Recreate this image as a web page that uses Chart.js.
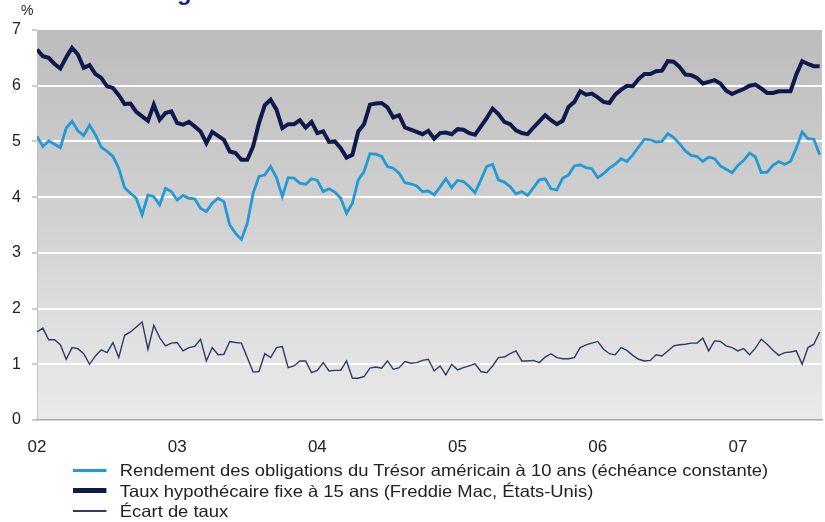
<!DOCTYPE html>
<html>
    <head>
        <script src="https://cdn.jsdelivr.net/npm/chart.js@4.4.1/dist/chart.umd.min.js"></script>
        <meta charset="utf-8">
        <title>Taux hypothécaires et rendement du Trésor</title>
        <style>
            body {
                margin: 0;
                background: #fff;
                font-family: "Liberation Sans", Arial, sans-serif;
            }

            #wrap {
                position: relative;
                width: 825px;
                height: 522px;
            }

            #unit {
                position: absolute;
                left: 21px;
                top: 2px;
                font-size: 14px;
                color: #222;
            }

            #legend {
                position: absolute;
                left: 73px;
                top: 460px;
                font-size: 16.5px;
                color: #222;
                line-height: 20.5px;
                transform: scaleX(1.115);
                transform-origin: left top;
            }

            .item {
                display: flex;
                align-items: center;
                white-space: nowrap;
            }

            .swatch {
                display: inline-block;
                width: 30px;
                margin-right: 12px;
            }
        </style>
    </head>

    <body>
        <div id="wrap">
            <canvas id="chart" width="825" height="522"></canvas>
            <div id="unit">%</div>
            <div id="legend"></div>
        </div>
        <script>
            // semi-monthly readings, starting January 2002
            const startYear = 2002;
            const perYear = 24;
            const yearTicks = [2002, 2003, 2004, 2005, 2006, 2007];
            const yearLabels = ["02", "03", "04", "05", "06", "07"];

            const seriesNames = [
                "Rendement des obligations du Trésor américain à 10 ans (échéance constante)",
                "Taux hypothécaire fixe à 15 ans (Freddie Mac, États-Unis)",
                "Écart de taux"
            ];

            const treasury10y = [
                5.09, 4.91, 5.01, 4.95, 4.89, 5.24, 5.36, 5.19, 5.11, 5.29, 5.12, 4.90,
                4.82, 4.73, 4.52, 4.17, 4.07, 3.98, 3.68, 4.04, 4.01, 3.86, 4.16, 4.10,
                3.95, 4.03, 3.98, 3.97, 3.80, 3.74, 3.89, 3.98, 3.92, 3.50, 3.35, 3.24,
                3.53, 4.07, 4.37, 4.40, 4.55, 4.35, 4.01, 4.35, 4.34, 4.25, 4.23, 4.33,
                4.30, 4.10, 4.15, 4.09, 3.98, 3.71, 3.89, 4.31, 4.46, 4.78, 4.77, 4.73,
                4.55, 4.52, 4.43, 4.26, 4.24, 4.20, 4.10, 4.11, 4.04, 4.18, 4.33, 4.17,
                4.30, 4.28, 4.19, 4.08, 4.31, 4.55, 4.59, 4.31, 4.27, 4.19, 4.06, 4.10,
                4.03, 4.17, 4.31, 4.33, 4.15, 4.13, 4.34, 4.40, 4.56, 4.58, 4.53, 4.51,
                4.35, 4.42, 4.52, 4.59, 4.69, 4.64, 4.76, 4.90, 5.04, 5.03, 4.99, 5.00,
                5.14, 5.07, 4.96, 4.83, 4.75, 4.73, 4.64, 4.72, 4.69, 4.56, 4.50, 4.44,
                4.57, 4.66, 4.79, 4.72, 4.44, 4.45, 4.57, 4.64, 4.59, 4.64, 4.88, 5.17,
                5.05, 5.04, 4.76
            ];

            const mortgage15y = [
                6.65, 6.53, 6.50, 6.39, 6.31, 6.51, 6.68, 6.56, 6.32, 6.37, 6.21, 6.14,
                5.99, 5.96, 5.83, 5.67, 5.68, 5.53, 5.45, 5.37, 5.66, 5.39, 5.51, 5.54,
                5.33, 5.30, 5.35, 5.27, 5.18, 4.97, 5.17, 5.10, 5.03, 4.82, 4.79, 4.67,
                4.67, 4.91, 5.33, 5.65, 5.75, 5.57, 5.24, 5.31, 5.31, 5.38, 5.25, 5.35,
                5.15, 5.18, 4.99, 5.00, 4.88, 4.71, 4.76, 5.18, 5.31, 5.66, 5.68, 5.69,
                5.61, 5.43, 5.47, 5.25, 5.21, 5.17, 5.13, 5.19, 5.05, 5.15, 5.16, 5.13,
                5.22, 5.21, 5.15, 5.12, 5.27, 5.42, 5.59, 5.49, 5.35, 5.31, 5.20, 5.15,
                5.13, 5.25, 5.36, 5.47, 5.38, 5.31, 5.37, 5.62, 5.71, 5.90, 5.84, 5.86,
                5.79, 5.71, 5.69, 5.84, 5.93, 6.00, 5.99, 6.12, 6.21, 6.21, 6.26, 6.27,
                6.44, 6.43, 6.34, 6.20, 6.19, 6.14, 6.04, 6.07, 6.10, 6.04, 5.91, 5.85,
                5.90, 5.94, 6.00, 6.02, 5.95, 5.87, 5.87, 5.90, 5.90, 5.90, 6.20, 6.44,
                6.39, 6.35, 6.35
            ];

            const rateSpread = [
                1.58, 1.65, 1.44, 1.44, 1.35, 1.09, 1.30, 1.28, 1.19, 1.00, 1.15, 1.26,
                1.21, 1.39, 1.12, 1.52, 1.58, 1.67, 1.76, 1.27, 1.70, 1.48, 1.33, 1.38,
                1.39, 1.24, 1.30, 1.32, 1.45, 1.06, 1.30, 1.17, 1.18, 1.41, 1.39, 1.38,
                1.12, 0.86, 0.87, 1.19, 1.12, 1.30, 1.32, 0.94, 0.97, 1.06, 1.06, 0.85,
                0.89, 1.03, 0.88, 0.89, 0.89, 1.06, 0.75, 0.75, 0.78, 0.93, 0.95, 0.93,
                1.06, 0.91, 0.94, 1.05, 1.02, 1.03, 1.07, 1.09, 0.88, 0.97, 0.81, 1.00,
                0.90, 0.94, 0.97, 1.01, 0.87, 0.85, 0.97, 1.12, 1.13, 1.19, 1.24, 1.06,
                1.06, 1.07, 1.03, 1.13, 1.19, 1.12, 1.10, 1.10, 1.12, 1.30, 1.35, 1.38,
                1.41, 1.27, 1.19, 1.17, 1.30, 1.25, 1.16, 1.09, 1.06, 1.07, 1.17, 1.15,
                1.24, 1.33, 1.35, 1.36, 1.38, 1.38, 1.47, 1.24, 1.42, 1.41, 1.33, 1.30,
                1.24, 1.28, 1.17, 1.29, 1.45, 1.36, 1.25, 1.16, 1.21, 1.22, 1.24, 1.00,
                1.30, 1.36, 1.58
            ];

            const lineColors = ["#229ad6", "#0e1a4e", "#2e3a6c"];
            const lineWidths = [2.8, 4, 1.4];

            function toPoints(values) {
                return values.map(function(v, i) {
                    return {x: startYear + i / perYear, y: v};
                });
            }

            // grey gradient behind the plot area
            const plotBackground = {
                id: "plotBackground",
                beforeDraw: function(chart) {
                    const a = chart.chartArea;
                    const ctx = chart.ctx;
                    const g = ctx.createLinearGradient(0, a.top, 0, a.bottom);
                    g.addColorStop(0, "#bcbcbc");
                    g.addColorStop(0.5, "#d2d2d2");
                    g.addColorStop(1, "#eaeaea");
                    ctx.save();
                    ctx.fillStyle = g;
                    ctx.fillRect(a.left, a.top, a.right - a.left, a.bottom - a.top);
                    ctx.restore();
                }
            };

            // heading sits above the page, only the tail of its "g" shows
            const headingTail = {
                id: "headingTail",
                afterDraw: function(chart) {
                    const ctx = chart.ctx;
                    ctx.save();
                    ctx.fillStyle = "#17248c";
                    ctx.font = "bold 24px 'Liberation Sans', Arial, sans-serif";
                    ctx.textBaseline = "alphabetic";
                    ctx.fillText("g", 177, 0);
                    ctx.restore();
                }
            };

            const datasets = [treasury10y, mortgage15y, rateSpread].map(function(values, k) {
                return {
                    label: seriesNames[k],
                    data: toPoints(values),
                    borderColor: lineColors[k],
                    borderWidth: lineWidths[k],
                    pointRadius: 0,
                    tension: 0,
                    fill: false
                };
            });

            const ctx = document.getElementById("chart").getContext("2d");
            const chart = new Chart(ctx, {
                type: "line",
                data: {datasets: datasets},
                plugins: [plotBackground, headingTail],
                options: {
                    responsive: false,
                    animation: false,
                    layout: {padding: {top: 30, right: 3, left: 0, bottom: 0}},
                    plugins: {
                        legend: {display: false},
                        tooltip: {enabled: false}
                    },
                    scales: {
                        x: {
                            type: "linear",
                            min: 2002,
                            max: 2007.6,
                            afterBuildTicks: function(axis) {
                                axis.ticks = yearTicks.map(function(v) { return {value: v}; });
                            },
                            afterFit: function(axis) {
                                axis.height = 102;
                            },
                            grid: {color: "rgba(0,0,0,0)", drawTicks: false},
                            border: {display: true, color: "#a8a8a8", width: 1.5},
                            ticks: {
                                padding: 17,
                                color: "#222",
                                maxRotation: 0,
                                font: {family: "'Liberation Sans', Arial, sans-serif", size: 17},
                                callback: function(v) {
                                    return yearLabels[yearTicks.indexOf(v)];
                                }
                            }
                        },
                        y: {
                            min: 0,
                            max: 7,
                            afterFit: function(axis) {
                                axis.width = 37;
                            },
                            grid: {
                                color: function(c) {
                                    return c.tick && (c.tick.value === 0 || c.tick.value === 7) ? "rgba(0,0,0,0)" : "#ffffff";
                                },
                                lineWidth: 2,
                                tickLength: 5,
                                tickColor: "#9a9a9a",
                                tickWidth: 1
                            },
                            border: {display: true, color: "#c4c4c4", width: 1},
                            ticks: {
                                stepSize: 1,
                                padding: 11,
                                color: "#222",
                                font: {family: "'Liberation Sans', Arial, sans-serif", size: 16}
                            }
                        }
                    }
                }
            });

            // legend stacked under the axis
            const legend = document.getElementById("legend");
            const swatchHeights = [3, 5, 2];
            for (let k = 0; k < seriesNames.length; k++) {
                const row = document.createElement("div");
                row.className = "item";
                const sw = document.createElement("span");
                sw.className = "swatch";
                sw.style.height = swatchHeights[k] + "px";
                sw.style.background = lineColors[k];
                const txt = document.createElement("span");
                txt.textContent = seriesNames[k];
                row.appendChild(sw);
                row.appendChild(txt);
                legend.appendChild(row);
            }
        </script>
    </body>
</html>
